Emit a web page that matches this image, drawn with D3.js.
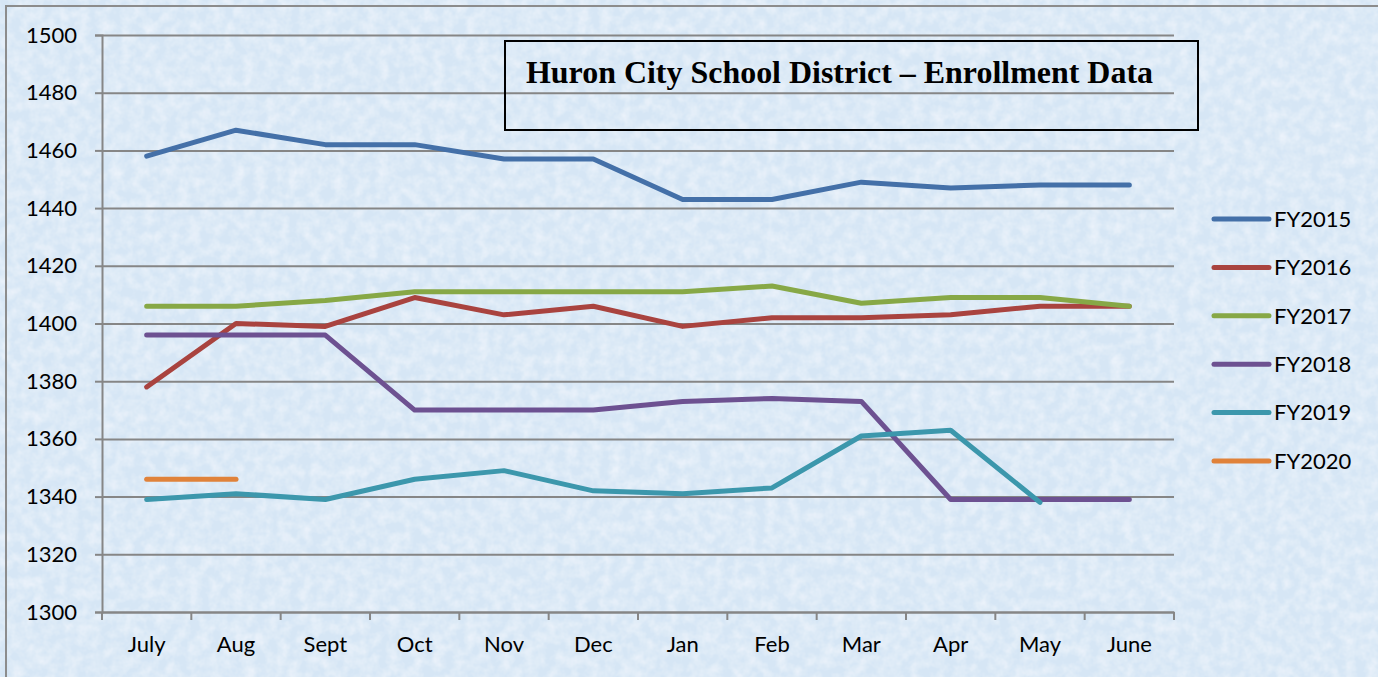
<!DOCTYPE html>
<html>
<head>
<meta charset="utf-8">
<script src="https://cdn.jsdelivr.net/npm/d3@7"></script>
<style>
  body { margin: 0; background: #fff; }
  svg { display: block; }
  text { font-family: Lato, "Open Sans", sans-serif; fill: #000; }
</style>
</head>
<body>
<svg id="chart"></svg>
<script>
const months = ["July", "Aug", "Sept", "Oct", "Nov", "Dec", "Jan", "Feb", "Mar", "Apr", "May", "June"];
const yTicks = [1300, 1320, 1340, 1360, 1380, 1400, 1420, 1440, 1460, 1480, 1500];

const fy2015 = [1458, 1467, 1462, 1462, 1457, 1457, 1443, 1443, 1449, 1447, 1448, 1448];
const fy2016 = [1378, 1400, 1399, 1409, 1403, 1406, 1399, 1402, 1402, 1403, 1406, 1406];
const fy2017 = [1406, 1406, 1408, 1411, 1411, 1411, 1411, 1413, 1407, 1409, 1409, 1406];
const fy2018 = [1396, 1396, 1396, 1370, 1370, 1370, 1373, 1374, 1373, 1339, 1339, 1339];
const fy2019 = [1339, 1341, 1339, 1346, 1349, 1342, 1341, 1343, 1361, 1363, 1338];
const fy2020 = [1346, 1346];

const seriesNames = ["FY2015", "FY2016", "FY2017", "FY2018", "FY2019", "FY2020"];
const seriesColors = ["#4470a8", "#a9433f", "#87a846", "#6d5191", "#3c97ac", "#e0823a"];
const series = [fy2015, fy2016, fy2017, fy2018, fy2019, fy2020];

const width = 1378, height = 677;
const plot = {left: 102, right: 1174, top: 35, bottom: 612};

const svg = d3.select("#chart").attr("width", width).attr("height", height);

// textured light blue background
const defs = svg.append("defs");
const filt = defs.append("filter").attr("id", "paper").attr("x", 0).attr("y", 0).attr("width", "100%").attr("height", "100%");
filt.append("feTurbulence").attr("type", "fractalNoise").attr("baseFrequency", 0.09).attr("numOctaves", 3).attr("seed", 4).attr("result", "noise");
filt.append("feColorMatrix").attr("in", "noise").attr("type", "matrix")
    .attr("values", "0 0 0 0 0.97  0 0 0 0 0.98  0 0 0 0 1  0 0 0 0.9 -0.3")
    .attr("result", "tint");
filt.append("feComposite").attr("in", "tint").attr("in2", "SourceGraphic").attr("operator", "over");

svg.append("rect").attr("width", width).attr("height", height).attr("fill", "#d6e6f5");
svg.append("rect").attr("width", width).attr("height", height).attr("fill", "#d6e6f5").attr("filter", "url(#paper)");
svg.append("rect").attr("x", 6).attr("y", 6).attr("width", width).attr("height", height)
    .attr("fill", "none").attr("stroke", "#8c8c8c").attr("stroke-width", 2);

const x = d3.scaleBand().domain(months).range([plot.left, plot.right]);
const y = d3.scaleLinear().domain([1300, 1500]).range([plot.bottom, plot.top]);

// gridlines + y axis
const gy = svg.append("g").attr("transform", `translate(${plot.left},0)`)
    .call(d3.axisLeft(y).tickValues(yTicks).tickFormat(d3.format("d")).tickSize(7).tickPadding(18));
gy.select(".domain").attr("stroke", "#868686").attr("stroke-width", 2);
gy.selectAll(".tick line").attr("stroke", "#868686").attr("stroke-width", 2);
gy.selectAll(".tick").append("line").attr("x2", plot.right - plot.left)
    .attr("stroke", "#868686").attr("stroke-width", 2);
gy.selectAll("text").style("font-size", "22px").attr("fill", "#000");

// x axis
const gx = svg.append("g").attr("transform", `translate(0,${plot.bottom})`)
    .call(d3.axisBottom(x).tickSize(0).tickPadding(24));
gx.select(".domain").attr("stroke", "#868686").attr("stroke-width", 2);
gx.selectAll("text").style("font-size", "22px").attr("fill", "#000");
const bounds = months.map(m => x(m)).concat([plot.right]);
gx.selectAll("line.sep").data(bounds).enter().append("line").attr("class", "sep")
    .attr("x1", d => d).attr("x2", d => d).attr("y1", 0).attr("y2", 8)
    .attr("stroke", "#868686").attr("stroke-width", 2);

// series lines
const line = d3.line().x((d, i) => x(months[i]) + x.bandwidth() / 2).y(d => y(d));
svg.append("g").selectAll("path").data(series).enter().append("path")
    .attr("d", line).attr("fill", "none")
    .attr("stroke", (d, i) => seriesColors[i]).attr("stroke-width", 5)
    .attr("stroke-linecap", "round").attr("stroke-linejoin", "round");

// title box
svg.append("rect").attr("x", 505).attr("y", 41).attr("width", 693).attr("height", 89)
    .attr("fill", "none").attr("stroke", "#000").attr("stroke-width", 2);
svg.append("text").attr("x", 526).attr("y", 83)
    .style("font-family", "'Liberation Serif', 'Times New Roman', serif")
    .style("font-weight", "bold").style("font-size", "32px")
    .attr("textLength", 627).attr("lengthAdjust", "spacingAndGlyphs")
    .text("Huron City School District \u2013 Enrollment Data");

// legend
const legend = svg.append("g").selectAll("g").data(seriesNames).enter().append("g")
    .attr("transform", (d, i) => `translate(1214,${219 + i * 48.4})`);
legend.append("line").attr("x1", 0).attr("x2", 55)
    .attr("stroke", (d, i) => seriesColors[i]).attr("stroke-width", 5).attr("stroke-linecap", "round");
legend.append("text").attr("x", 60).attr("dy", "0.35em").style("font-size", "22px").text(d => d);
</script>
</body>
</html>
